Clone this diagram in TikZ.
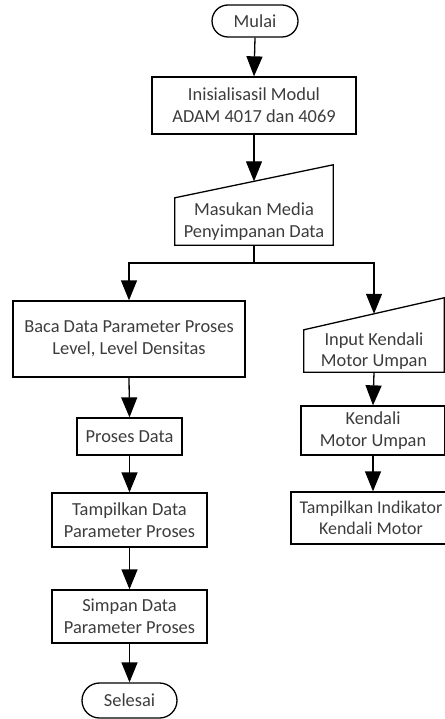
\documentclass[tikz,border=0pt]{standalone}
\usepackage{fontspec}
\setmainfont{Carlito}
\usetikzlibrary{arrows.meta,shapes.misc,calc}
\definecolor{txt}{HTML}{3C3C3C}
\tikzset{
  box/.style={draw=black, line width=1.3pt, rectangle, inner sep=0pt, align=center, text=txt,
    font=\fontsize{18.4}{21.7}\selectfont},
  term/.style={box, rounded rectangle},
  plain/.style={rectangle, inner sep=0pt, align=center, text=txt,
    font=\fontsize{18.4}{21.7}\selectfont},
  arr/.style={line width=1.3pt, -{Triangle[length=20pt,width=16pt]}},
  ln/.style={line width=1.3pt},
}
\begin{document}
\begin{tikzpicture}[x=1pt,y=1pt]
\useasboundingbox (0,0) rectangle (444,-719);
% nodes
\node[term, minimum width=86, minimum height=32] (mulai) at (255,-21) {Mulai};
\node[box, minimum width=204, minimum height=57] (init) at (254,-105.5) {Inisialisasil Modul\\ADAM 4017 dan 4069};
\node[plain, minimum width=158, minimum height=47] (masuk) at (254,-221.5) {Masukan Media\\Penyimpanan Data};
\draw[ln] (masuk.south west) -- (masuk.south east) -- ($(masuk.north east)+(0,33)$) -- (masuk.north west) -- cycle;
\coordinate (masuktop) at ($(masuk.north)+(0,16.5)$);
\coordinate (split) at (254,-263);

\node[box, minimum width=232, minimum height=76] (baca) at (129,-339) {Baca Data Parameter Proses\\Level, Level Densitas};
\node[box, minimum width=105, minimum height=37] (proses) at (129.5,-436.5) {Proses Data};
\node[box, minimum width=155, minimum height=54] (tampil) at (129.5,-520) {Tampilkan Data\\Parameter Proses};
\node[box, minimum width=155, minimum height=53] (simpan) at (129.5,-616.5) {Simpan Data\\Parameter Proses};
\node[term, minimum width=95, minimum height=35] (selesai) at (129.5,-700.5) {Selesai};

\node[plain, minimum width=140, minimum height=42] (input) at (374,-351) {Input Kendali\\Motor Umpan};
\draw[ln] (input.south west) -- (input.south east) -- ($(input.north east)+(0,32)$) -- (input.north west) -- cycle;
\coordinate (inputtop) at ($(input.north)+(0,16)$);
\node[box, minimum width=144, minimum height=49] (kendali) at (373,-430.5) {Kendali\\Motor Umpan};
\node[box, minimum width=160, minimum height=52, font=\fontsize{17.9}{21.2}\selectfont] (indik) at (371,-518) {Tampilkan Indikator\\Kendali Motor};

% connectors
\draw[arr] (mulai.south) -- (init.north);
\draw[arr] (init.south) -- (masuktop);
\draw[ln] (masuk.south) -- (split);
\draw[arr] (split) -| (baca.north);
\draw[arr] (split) -| (inputtop);
\draw[arr] (baca.south) -- (proses.north);
\draw[arr] (proses.south) -- (tampil.north);
\draw[arr] (tampil.south) -- (simpan.north);
\draw[arr] (simpan.south) -- (selesai.north);
\draw[arr] (input.south) -- (kendali.north);
\draw[arr] (kendali.south) -- (kendali.south |- indik.north);
\end{tikzpicture}
\end{document}
